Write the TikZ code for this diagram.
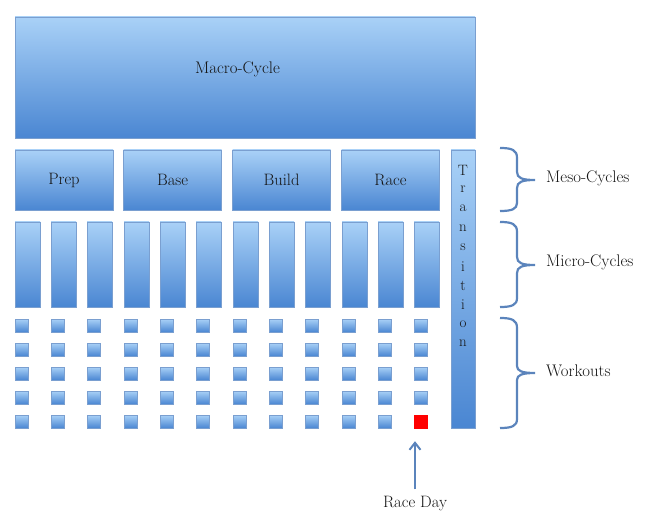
\documentclass[tikz,border=0pt]{standalone}
\usetikzlibrary{arrows.meta}
\definecolor{boxtop}{HTML}{A9D1F7}
\definecolor{boxbot}{HTML}{4A86D2}
\definecolor{boxline}{HTML}{7A9FD0}
\definecolor{bracec}{HTML}{5B84BC}
\definecolor{txt}{HTML}{151515}
\begin{document}
\begin{tikzpicture}[x=1pt,y=-1pt,
  every node/.style={text=txt},
  box/.style={draw=boxline, line width=0.8pt, top color=boxtop, bottom color=boxbot, inner sep=0pt, outer sep=0pt, font=\fontsize{16.5}{19}\selectfont},
  sq/.style={box, minimum width=13pt, minimum height=13pt},
  bar/.style={box, minimum width=25pt, minimum height=85pt},
  meso/.style={box, minimum width=98pt, minimum height=60pt},
  lbl/.style={font=\fontsize{16.8}{19}\selectfont, anchor=west, inner sep=0pt},
  brc/.style={draw=bracec, line width=2.2pt}
]
\useasboundingbox (0,0) rectangle (647,521);
\node[box, minimum width=460pt, minimum height=121pt] (macro) at (245,77.5) {};
\node[font=\fontsize{16.8}{19}\selectfont, inner sep=0pt] (macrotxt) at (237.5,69) {Macro-Cycle};
\node[meso] (prep) at (64,180) {Prep};
\node[meso] (base) at (172.5,180) {Base};
\node[meso] (build) at (281.5,180) {Build};
\node[meso] (race) at (390.5,180) {Race};
\node[box, minimum width=24pt, minimum height=278pt] (trans) at (463,289) {};
\foreach \L [count=\i] in {T,r,a,n,s,i,t,i,o,n}
  \node[font=\fontsize{15}{17}\selectfont, inner sep=0pt] (t\i) at (463,{170+(\i-1)*19.3}) {\L};
\foreach \x [count=\i] in {15,51,87,124,160,196,233,269,305,342,378,414} {
  \node[bar] (m\i) at ({\x+12.5},264.5) {};
  \foreach \y [count=\j] in {325.5,349.5,373.5,397.5,421.5}
    \node[sq] (w\i-\j) at ({\x+7},\y) {};
}
\node[draw=red, fill=red, minimum width=13pt, minimum height=13pt, inner sep=0pt] (red) at (421,421.5) {};
% braces
\draw[brc] (500,148) .. controls (512,148) and (517,150) .. (517,158) -- (517,172)
  .. controls (517,178) and (522,180) .. (535,180) .. controls (522,180) and (517,182) .. (517,188)
  -- (517,203) .. controls (517,209) and (512,211) .. (500,211);
\draw[brc] (500,222) .. controls (512,222) and (517,224) .. (517,232) -- (517,257)
  .. controls (517,263) and (522,265) .. (535,265) .. controls (522,265) and (517,267) .. (517,273)
  -- (517,298) .. controls (517,305) and (512,307) .. (500,307);
\draw[brc] (500,318) .. controls (512,318) and (517,320) .. (517,328) -- (517,366)
  .. controls (517,371) and (522,373) .. (535,373) .. controls (522,373) and (517,375) .. (517,380)
  -- (517,419) .. controls (517,426) and (512,428) .. (500,428);
\node[lbl] (meso) at (546,178.5) {Meso-Cycles};
\node[lbl] (micro) at (546,262.5) {Micro-Cycles};
\node[lbl] (work) at (546,371) {Workouts};
\node[font=\fontsize{16.5}{19}\selectfont, inner sep=0pt] (rd) at (415,504) {Race Day};
\draw[draw=bracec, line width=2pt, -{Straight Barb[length=7pt,width=11pt]}, shorten <=7pt, shorten >=13pt] (rd.north) -- (rd.north |- red.south);
\end{tikzpicture}
\end{document}
